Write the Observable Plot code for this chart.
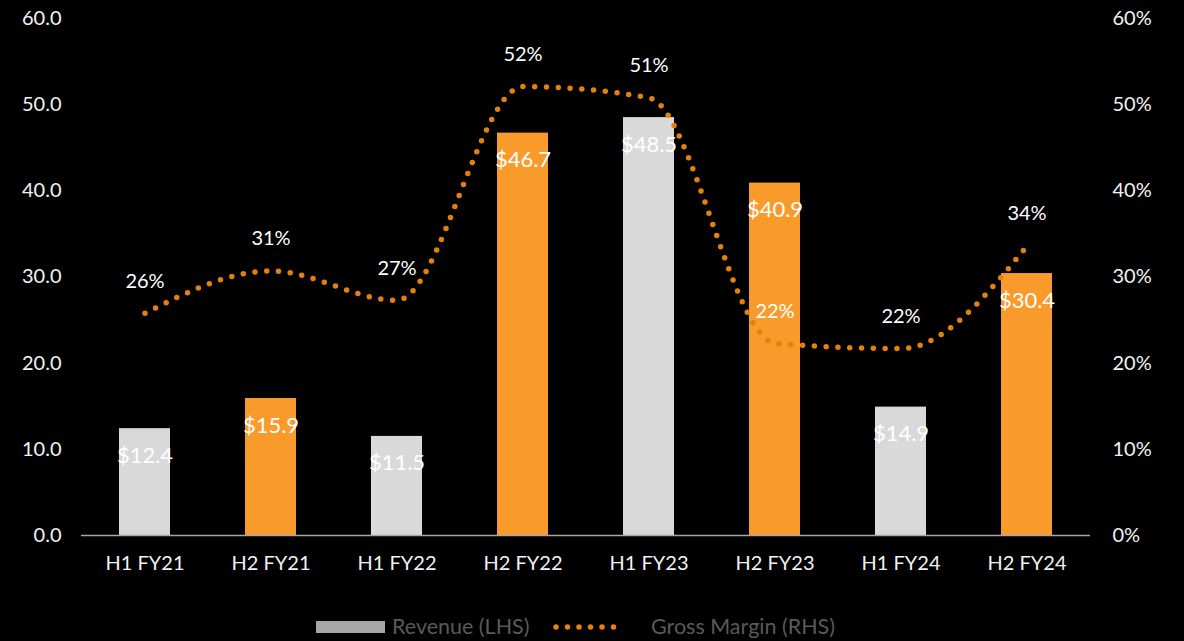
<!DOCTYPE html>
<html><head><meta charset="utf-8">
<script src="https://cdn.jsdelivr.net/npm/d3@7"></script>
<script src="https://cdn.jsdelivr.net/npm/@observablehq/plot@0.6"></script>
<style>
html,body{margin:0;padding:0;background:#000;}
#chart{width:1184px;height:600px;}
#legend{height:41px;font-family:Lato,sans-serif;font-size:21.5px;color:#5a5a5a;position:relative;}
.sw{position:absolute;}
</style></head>
<body>
<div id="chart"></div>
<div id="legend">
  <div class="sw" style="left:316px;top:21px;width:69px;height:12px;background:#a6a6a6"></div>
  <div class="sw" style="left:392px;top:13px;">Revenue (LHS)</div>
  <svg class="sw" style="left:550px;top:20px" width="74" height="14"><line x1="6" x2="70" y1="7" y2="7" stroke="#e8820c" stroke-width="5.5" stroke-linecap="round" stroke-dasharray="0 11.5"/></svg>
  <div class="sw" style="left:651px;top:13px;">Gross Margin (RHS)</div>
</div>
<script>
const periods = ["H1 FY21","H2 FY21","H1 FY22","H2 FY22","H1 FY23","H2 FY23","H1 FY24","H2 FY24"];
const revenue = [12.4, 15.9, 11.5, 46.7, 48.5, 40.9, 14.9, 30.4];
const grossMargin = [25.8, 30.7, 27.3, 52.1, 50.8, 22.3, 21.7, 33.6];
const leftTicks = [0,10,20,30,40,50,60];
const rightTicks = [0,10,20,30,40,50,60];

const data = periods.map((p,i)=>({period:p, revenue:revenue[i], margin:grossMargin[i], half:p.slice(0,2)}));
const font = "Lato, sans-serif";

const plot = Plot.plot({
  width:1184, height:600,
  marginLeft:81, marginRight:94, marginTop:18, marginBottom:65,
  style:{background:"#000", color:"#f2f2f2", fontFamily:font, fontSize:"19px"},
  x:{domain:periods, paddingInner:0.595, paddingOuter:0.3, label:null, tickSize:0, tickPadding:20},
  y:{domain:[0,60], label:null},
  color:{domain:["H1","H2"], range:["#d9d9d9","#f99b2b"]},
  marks:[
    Plot.barY(data,{x:"period", y:"revenue", fill:"half"}),
    Plot.ruleY([0],{stroke:"#a6a6a6", strokeWidth:1.5}),
    Plot.axisX({tickSize:0, tickPadding:20, label:null, fontSize:20}),
    Plot.axisY({ticks:leftTicks, anchor:"left", tickSize:0, tickPadding:20, tickFormat:d=>d.toFixed(1), label:null, fontSize:20}),
    Plot.axisY({ticks:rightTicks, anchor:"right", tickSize:0, tickPadding:22, tickFormat:d=>d+"%", label:null, fontSize:20, textAnchor:"start"}),
    Plot.text(data,{x:"period", y:"revenue", text:d=>"$"+d.revenue.toFixed(1), dy:27, fill:"#fff", fontSize:22}),
    Plot.line(data,{x:"period", y:"margin", curve:"monotone-x", stroke:"#e4800e", strokeWidth:5.5, strokeLinecap:"round", strokeDasharray:"0 11.8"}),
    Plot.text(data,{x:"period", y:"margin", text:d=>Math.round(d.margin)+"%", dy:-32, fill:"#fff", fontSize:20})
  ]
});
document.getElementById("chart").appendChild(plot);
</script>
</body></html>
